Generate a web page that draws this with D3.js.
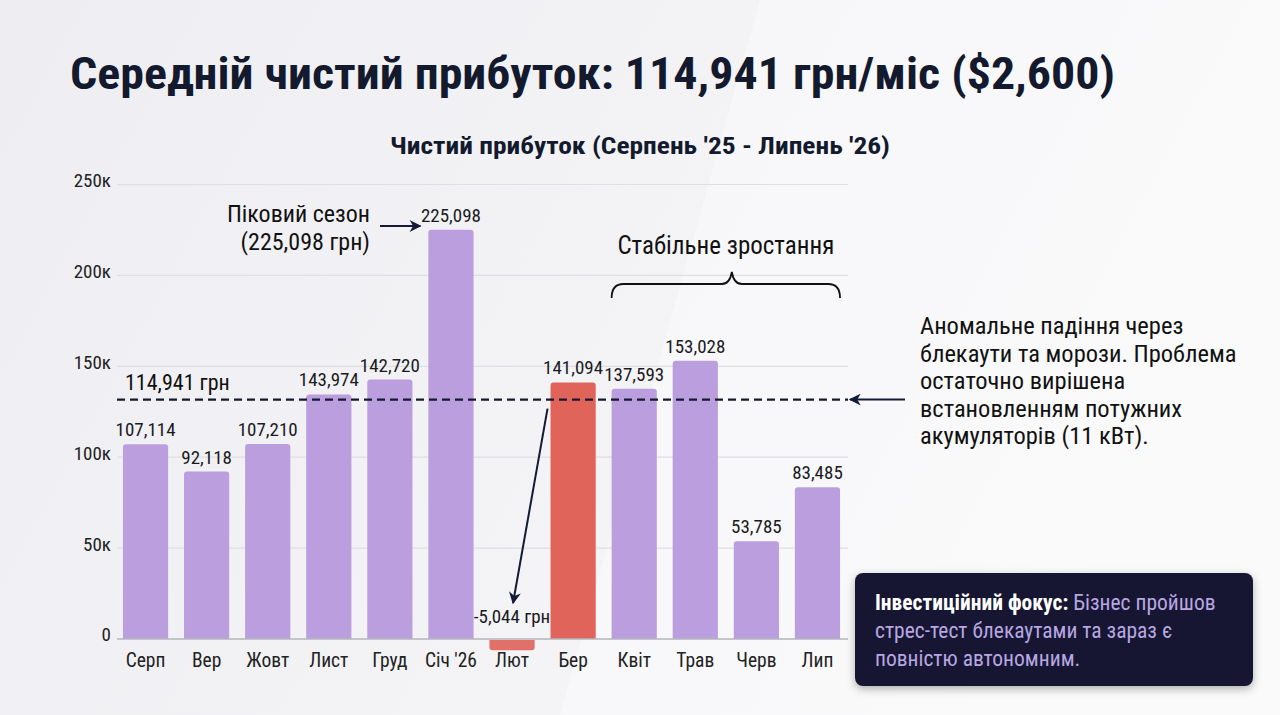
<!DOCTYPE html>
<html><head><meta charset="utf-8">
<script src="https://cdn.jsdelivr.net/npm/d3@7/dist/d3.min.js"></script>
<style>
html,body{margin:0;padding:0;width:1280px;height:715px;overflow:hidden;background:#f2f2f5;}
svg text{font-family:"Liberation Sans Narrow","Roboto Condensed",Roboto,"Liberation Sans",Arial,sans-serif;}
</style></head>
<body>
<svg id="c" width="1280" height="715"></svg>
<script>
const months = ["Серп","Вер","Жовт","Лист","Груд","Січ '26","Лют","Бер","Квіт","Трав","Черв","Лип"];
// bar heights
const profit = [107114, 92118, 107210, 134500, 142720, 225098, -5044, 141094, 137593, 153028, 53785, 83485];
// value labels as printed above the bars
const valueLabels = ["107,114","92,118","107,210","143,974","142,720","225,098","-5,044 грн","141,094","137,593","153,028","53,785","83,485"];
const highlighted = [false,false,false,false,false,false,true,true,false,false,false,false];
const yTicks = [0, 50000, 100000, 150000, 200000, 250000];
const yTickLabels = ["0","50к","100к","150к","200к","250к"];
// dashed average line: level where the picture draws it, and its printed label
const averageLine = 131700;
const averageLabel = "114,941 грн";
const title = "Середній чистий прибуток: 114,941 грн/міс ($2,600)";
const subtitle = "Чистий прибуток (Серпень '25 - Липень '26)";
const peakNote = ["Піковий сезон","(225,098 грн)"];
const growthNote = "Стабільне зростання";
const anomalyNote = ["Аномальне падіння через","блекаути та морози. Проблема","остаточно вирішена","встановленням потужних","акумуляторів (11 кВт)."];
const focusBold = "Інвестиційний фокус:";
const focusLines = ["Бізнес пройшов","стрес-тест блекаутами та зараз є","повністю автономним."];

(function(){
const svg = d3.select("#c");
const defs = svg.append("defs");
const bg = defs.append("linearGradient").attr("id","bg").attr("x1","0").attr("y1","0").attr("x2","1").attr("y2","0.3");
bg.append("stop").attr("offset","0").attr("stop-color","#eeeef2");
bg.append("stop").attr("offset","0.55").attr("stop-color","#f3f3f6");
bg.append("stop").attr("offset","1").attr("stop-color","#f7f7f9");
svg.append("rect").attr("width",1280).attr("height",715).attr("fill","url(#bg)");
svg.append("path").attr("d","M760,0 L1280,0 L1280,715 L560,715 Z").attr("fill","#ffffff").attr("opacity",0.35);
const sh = defs.append("filter").attr("id","sh").attr("x","-10%").attr("y","-20%").attr("width","120%").attr("height","150%");
sh.append("feDropShadow").attr("dx",0).attr("dy",3).attr("stdDeviation",4).attr("flood-color","#000").attr("flood-opacity",0.3);
const mk = defs.append("marker").attr("id","ah").attr("viewBox","0 0 10 10").attr("refX",9).attr("refY",5)
  .attr("orient","auto-start-reverse").attr("markerUnits","userSpaceOnUse")
  .attr("markerWidth",14).attr("markerHeight",12);
mk.append("path").attr("d","M0,0 L10,5 L0,10 L3,5 Z").attr("fill","#141a35");

const ink = "#141a2e";
svg.append("text").attr("x",70).attr("y",89).attr("font-size",45).attr("font-weight","bold").attr("fill",ink)
  .attr("textLength",1045).attr("lengthAdjust","spacingAndGlyphs").text(title);
svg.append("text").attr("x",640).attr("y",154).attr("text-anchor","middle").attr("font-size",24).attr("font-weight","bold").attr("fill",ink)
  .attr("textLength",500).attr("lengthAdjust","spacingAndGlyphs").text(subtitle);

const pl = 117, pr = 848, pt = 184.5, pb = 639;
const x = d3.scaleBand().domain(months).range([pl-2, pr]).paddingInner(0.26).paddingOuter(0.13);
const y = d3.scaleLinear().domain([0,250000]).range([pb, pt]);

svg.append("g").selectAll("line").data(yTicks.slice(1)).join("line")
  .attr("x1",pl).attr("x2",pr).attr("y1",d=>y(d)).attr("y2",d=>y(d))
  .attr("stroke","#dedee4").attr("stroke-width",1.2);

const yAxis = svg.append("g").attr("transform",`translate(${pl-6},0)`)
  .call(d3.axisLeft(y).tickValues(yTicks).tickFormat((d,i)=>yTickLabels[i]).tickSize(0).tickPadding(0));
yAxis.select(".domain").remove();
yAxis.selectAll("text").attr("font-size",19).attr("fill","#222").attr("dy","0.1em");

const purple = "#bb9edd", red = "#e0645a";
const barPath = (d,i) => {
  const x0 = x(months[i]), w = x.bandwidth(), r = 3;
  if (d >= 0) {
    const y0 = y(d), y1 = y(0);
    return `M${x0},${y1} L${x0},${y0+r} Q${x0},${y0} ${x0+r},${y0} L${x0+w-r},${y0} Q${x0+w},${y0} ${x0+w},${y0+r} L${x0+w},${y1} Z`;
  } else {
    const y0 = y(0)+1, y1 = y(d)+2;
    return `M${x0},${y0} L${x0+w},${y0} L${x0+w},${y1-r} Q${x0+w},${y1} ${x0+w-r},${y1} L${x0+r},${y1} Q${x0},${y1} ${x0},${y1-r} Z`;
  }
};
svg.append("g").selectAll("path").data(profit).join("path")
  .attr("d",barPath).attr("fill",(d,i)=>highlighted[i]?(d<0?"#e07068":red):purple);

svg.append("line").attr("x1",pl).attr("x2",pr).attr("y1",y(0)).attr("y2",y(0)).attr("stroke","#b5b5bd").attr("stroke-width",1.5);

const xAxis = svg.append("g").attr("transform",`translate(0,${pb})`)
  .call(d3.axisBottom(x).tickSize(0).tickPadding(10));
xAxis.select(".domain").remove();
xAxis.selectAll("text").attr("font-size",19.5).attr("fill","#222").attr("dy","0.9em");

svg.append("g").selectAll("text").data(profit).join("text")
  .attr("x",(d,i)=>x(months[i])+x.bandwidth()/2)
  .attr("y",(d,i)=> d>=0 ? y(d)-8 : y(0)-16)
  .attr("text-anchor","middle").attr("font-size",19).attr("fill","#1a1a22")
  .text((d,i)=>valueLabels[i]);

svg.append("line").attr("x1",pl).attr("x2",pr).attr("y1",y(averageLine)).attr("y2",y(averageLine))
  .attr("stroke",ink).attr("stroke-width",2.2).attr("stroke-dasharray","8,5");
svg.append("text").attr("x",125).attr("y",y(averageLine)-10).attr("font-size",22).attr("fill","#111").text(averageLabel);

const peakX = x(months[5]);
svg.append("text").attr("x",370).attr("y",222).attr("text-anchor","end").attr("font-size",24).attr("fill","#111")
  .selectAll("tspan").data(peakNote).join("tspan").attr("x",370).attr("dy",(d,i)=>i?28:0).text(d=>d);
svg.append("line").attr("x1",380).attr("y1",226).attr("x2",peakX-8).attr("y2",226)
  .attr("stroke","#141a35").attr("stroke-width",2).attr("marker-end","url(#ah)");

const berX = x(months[7]), lutX = x(months[6]) + x.bandwidth()/2;
svg.append("line").attr("x1",berX-3).attr("y1",y(averageLine)+9).attr("x2",lutX+1).attr("y2",y(0)-36)
  .attr("stroke","#141a35").attr("stroke-width",2).attr("marker-end","url(#ah)");

const gx0 = x(months[8]) , gx1 = x(months[11]) + x.bandwidth();
const gm = (gx0+gx1)/2 + 6;
svg.append("text").attr("x",gm-6).attr("y",254).attr("text-anchor","middle").attr("font-size",25).attr("fill","#111").text(growthNote);
svg.append("path").attr("d",`M${gx0},298 Q${gx0},284 ${gx0+12},284 L${gm-10},284 Q${gm-2},284 ${gm},272 Q${gm+2},284 ${gm+10},284 L${gx1-12},284 Q${gx1},284 ${gx1},298`)
  .attr("fill","none").attr("stroke","#111").attr("stroke-width",1.8);

svg.append("text").attr("x",920).attr("y",334).attr("font-size",24.5).attr("fill","#111")
  .selectAll("tspan").data(anomalyNote).join("tspan").attr("x",920).attr("dy",(d,i)=>i?27.5:0).text(d=>d);
svg.append("line").attr("x1",905).attr("y1",y(averageLine)).attr("x2",pr+2).attr("y2",y(averageLine))
  .attr("stroke","#141a35").attr("stroke-width",2).attr("marker-end","url(#ah)");

svg.append("rect").attr("x",855).attr("y",573).attr("width",398).attr("height",113).attr("rx",8)
  .attr("fill","#141833").attr("filter","url(#sh)");
const ft = svg.append("text").attr("x",875).attr("y",610).attr("font-size",21.5);
ft.append("tspan").attr("font-weight","bold").attr("fill","#ffffff").text(focusBold);
ft.append("tspan").attr("fill","#b9a6e2").text(" " + focusLines[0]);
svg.append("g").selectAll("text").data(focusLines.slice(1)).join("text")
  .attr("x",875).attr("y",(d,i)=>638+i*27.5).attr("font-size",21.5).attr("fill","#b9a6e2").text(d=>d);
})();
</script>
</body></html>
